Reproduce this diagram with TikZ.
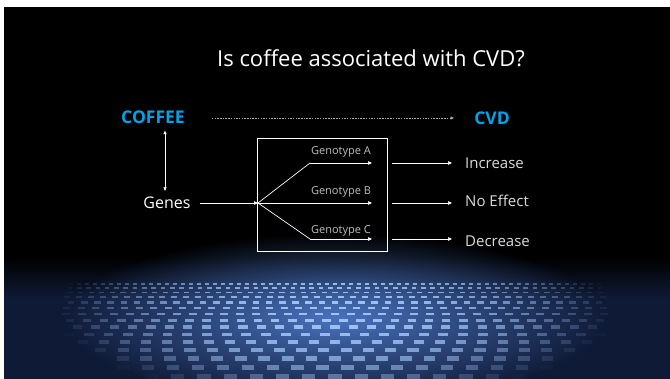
\documentclass[tikz,border=0pt]{standalone}
\usepackage{fontspec}
\setmainfont{Open Sans}
\usetikzlibrary{arrows.meta,fadings,calc}
\definecolor{cvdblue}{RGB}{0,162,232}
\definecolor{navy}{RGB}{15,26,54}
\definecolor{glowblue}{RGB}{80,125,205}
\definecolor{weave}{RGB}{165,200,250}
\definecolor{lblgray}{RGB}{218,218,218}
\definecolor{genogray}{RGB}{190,190,190}
\definecolor{dashgray}{RGB}{170,170,170}
\tikzfading[name=glowfade, inner color=transparent!10, outer color=transparent!100]
\begin{document}
\begin{tikzpicture}[x=1pt,y=-1pt,
  wline/.style={draw=white, line width=0.7pt},
  arr/.style={wline, -{Triangle[length=4pt,width=3.5pt]}},
  darr/.style={wline, line width=0.6pt, {Triangle[length=3.5pt,width=3pt]}-{Triangle[length=3.5pt,width=3pt]}},
  dotarr/.style={draw=dashgray, line width=0.5pt, dash pattern=on 1.5pt off 1.2pt, -{Triangle[length=3.5pt,width=3pt]}},
  title/.style={text=white, font=\fontsize{22}{26}\selectfont, inner sep=0pt},
  big/.style={text=cvdblue, font=\fontsize{17.5}{20}\selectfont\bfseries, inner sep=0pt},
  genes/.style={text=white, font=\fontsize{16}{19}\selectfont, inner sep=0pt},
  lbl/.style={text=lblgray, font=\fontsize{15}{18}\selectfont, anchor=west, inner sep=0pt},
  geno/.style={text=genogray, font=\fontsize{11}{13}\selectfont, inner sep=0pt},
  gbox/.style={draw=white, line width=0.8pt, minimum width=129.5pt, minimum height=113pt, inner sep=0pt}]
\useasboundingbox (0,0) rectangle (670,379);
\fill[white] (0,0) rectangle (670,379);
\fill[black] (4,7) rectangle (670,379);
% floor
\begin{scope}
\clip (4,7) rectangle (670,379);
\shade[top color=black, bottom color=navy] (4,258) rectangle (670,298);
\fill[navy] (4,298) rectangle (670,379);
\fill[glowblue, path fading=glowfade] (335,318) ellipse [x radius=270, y radius=85];
\foreach \k in {0,...,15} {
  \pgfmathsetmacro{\yy}{284 + 3.8*\k + 0.2*\k*\k}
  \pgfmathsetmacro{\hh}{1.2 + 0.28*\k}
  \pgfmathsetmacro{\dd}{4 + 0.65*\k}
  \pgfmathsetmacro{\ph}{mod(\k,2)*\dd}
  \pgfmathtruncatemacro{\nn}{280/(2*\dd)+1}
  \foreach \j in {-\nn,...,\nn} {
    \pgfmathsetmacro{\xx}{335 + 2*\j*\dd + \ph - \dd/2}
    \pgfmathsetmacro{\op}{0.95*(1 - ((\xx+\dd/2-335)/280)^2 - ((\yy-310)/90)^2)}
    \ifdim \op pt>0.02pt
      \fill[weave, opacity=\op] (\xx,\yy-\hh/2) rectangle (\xx+\dd,\yy+\hh/2);
    \fi
  }
}
\end{scope}
% diagram
\node[title] (title) at (371,58) {Is coffee associated with CVD?};
\node[big] (coffee) at (153,117) {COFFEE};
\node[big] (cvd) at (492,118) {CVD};
\draw[dotarr] ($(coffee.east)+(27,1)$) -- ($(cvd.west)+(-20,0)$);
\node[genes] (genes) at (167,203) {Genes};
\draw[darr] ($(coffee.south)+(12,7)$) -- ($(genes.north)+(-2,-6)$);
\node[gbox] (box) at (322.3,194.5) {};
\coordinate (br) at (258,203);
\coordinate (ea) at (310,163);
\coordinate (ec) at (310,239);
\coordinate (ta) at (372,163);
\coordinate (tb) at (372,203);
\coordinate (tc) at (372,239);
\draw[arr] ($(genes.east)+(9,0)$) -- (br);
\draw[wline] (br) -- (ea);
\draw[arr] (ea) -- (ta);
\draw[arr] (br) -- (tb);
\draw[wline] (br) -- (ec);
\draw[arr] (ec) -- (tc);
\node[geno] (ga) at (341,152) {Genotype A};
\node[geno] (gb) at (341,192) {Genotype B};
\node[geno] (gc) at (341,231) {Genotype C};
\node[lbl] (inc) at (465,163) {Increase};
\node[lbl] (noe) at (465,201) {No Effect};
\node[lbl] (dec) at (465,241) {Decrease};
\coordinate (oa) at (392,163);
\coordinate (ob) at (392,203);
\coordinate (oc) at (392,239);
\draw[arr] (oa) -- ($(inc.west |- oa)+(-13,0)$);
\draw[arr] (ob) -- ($(noe.west |- ob)+(-13,0)$);
\draw[arr] (oc) -- ($(dec.west |- oc)+(-13,0)$);
\end{tikzpicture}
\end{document}
